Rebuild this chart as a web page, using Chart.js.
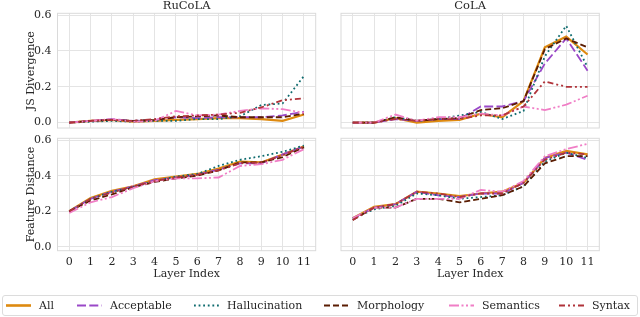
<!DOCTYPE html>
<html>
<head>
<meta charset="utf-8">
<script src="https://cdn.jsdelivr.net/npm/chart.js@4.4.1/dist/chart.umd.min.js"></script>
<style>
  body { margin: 0; width: 640px; height: 317px; background: #fff; position: relative; overflow: hidden; font-family: 'DejaVu Serif', serif; }
  canvas { position: absolute; left: 0; top: 0; }
  #legend { position: absolute; left: 2px; top: 295px; width: 634px; height: 19px; border: 1px solid #dcdcdc; border-radius: 3px; font-size: 11px; color: #262626; }
  .item { position: absolute; top: 0; height: 19px; line-height: 19px; white-space: nowrap; }
  .item svg { position: absolute; top: 0; left: 0; }
</style>
</head>
<body>
<canvas id="c1" width="640" height="317"></canvas>
<canvas id="c2" width="640" height="317"></canvas>
<canvas id="c3" width="640" height="317"></canvas>
<canvas id="c4" width="640" height="317"></canvas>
<div id="legend"></div>
<script>
// layers and series
var layers = [0, 1, 2, 3, 4, 5, 6, 7, 8, 9, 10, 11];
var series = ['All', 'Acceptable', 'Hallucination', 'Morphology', 'Semantics', 'Syntax'];
var yTicks = [0, 0.2, 0.4, 0.6];

// values, one row per series (same order as above)
var rucolaJs = [
  [0.0, 0.01, 0.015, 0.005, 0.01, 0.015, 0.02, 0.025, 0.025, 0.02, 0.01, 0.045],
  [0.0, 0.01, 0.02, 0.01, 0.015, 0.03, 0.025, 0.03, 0.03, 0.03, 0.04, 0.06],
  [0.0, 0.005, 0.01, 0.005, 0.01, 0.01, 0.02, 0.02, 0.035, 0.098, 0.107, 0.26],
  [0.0, 0.01, 0.015, 0.01, 0.015, 0.03, 0.035, 0.04, 0.03, 0.03, 0.03, 0.05],
  [0.0, 0.01, 0.02, 0.005, 0.01, 0.065, 0.04, 0.045, 0.065, 0.08, 0.075, 0.055],
  [0.0, 0.01, 0.015, 0.01, 0.02, 0.035, 0.04, 0.045, 0.055, 0.085, 0.125, 0.135]
];
var colaJs = [
  [0.0, 0.0, 0.025, 0.0, 0.01, 0.015, 0.05, 0.03, 0.12, 0.42, 0.48, 0.38],
  [0.0, 0.0, 0.02, 0.01, 0.02, 0.02, 0.09, 0.09, 0.12, 0.33, 0.47, 0.29],
  [0.0, 0.0, 0.03, 0.01, 0.02, 0.04, 0.06, 0.02, 0.065, 0.37, 0.54, 0.31],
  [0.0, 0.0, 0.03, 0.01, 0.02, 0.025, 0.07, 0.08, 0.12, 0.41, 0.47, 0.42],
  [0.0, 0.0, 0.045, 0.01, 0.03, 0.03, 0.05, 0.04, 0.09, 0.07, 0.10, 0.15],
  [0.0, 0.0, 0.02, 0.01, 0.02, 0.02, 0.04, 0.04, 0.09, 0.23, 0.20, 0.20]
];
var rucolaFd = [
  [0.2, 0.275, 0.315, 0.34, 0.38, 0.395, 0.41, 0.44, 0.48, 0.475, 0.52, 0.565],
  [0.2, 0.27, 0.31, 0.34, 0.375, 0.39, 0.405, 0.435, 0.47, 0.47, 0.52, 0.565],
  [0.2, 0.27, 0.31, 0.335, 0.37, 0.395, 0.41, 0.455, 0.49, 0.51, 0.535, 0.57],
  [0.2, 0.26, 0.295, 0.335, 0.365, 0.385, 0.4, 0.43, 0.475, 0.475, 0.505, 0.56],
  [0.19, 0.25, 0.28, 0.33, 0.37, 0.385, 0.385, 0.39, 0.455, 0.465, 0.49, 0.55],
  [0.2, 0.27, 0.305, 0.34, 0.37, 0.39, 0.405, 0.43, 0.47, 0.475, 0.515, 0.565]
];
var colaFd = [
  [0.16, 0.225, 0.24, 0.31, 0.30, 0.285, 0.30, 0.31, 0.36, 0.50, 0.54, 0.52],
  [0.16, 0.22, 0.24, 0.31, 0.29, 0.28, 0.30, 0.30, 0.36, 0.50, 0.53, 0.49],
  [0.16, 0.21, 0.23, 0.30, 0.29, 0.27, 0.28, 0.29, 0.34, 0.48, 0.53, 0.50],
  [0.15, 0.22, 0.22, 0.27, 0.27, 0.25, 0.27, 0.29, 0.34, 0.47, 0.51, 0.51],
  [0.16, 0.22, 0.22, 0.27, 0.27, 0.27, 0.32, 0.31, 0.37, 0.51, 0.55, 0.58],
  [0.15, 0.22, 0.24, 0.31, 0.30, 0.28, 0.30, 0.30, 0.36, 0.49, 0.53, 0.52]
];

// styles
var colors = ['#DE8A10', '#9A48C8', '#0E6B6E', '#5A1C02', '#F07EC6', '#B0333A'];
var widths = [2.2, 1.8, 1.8, 1.8, 1.8, 1.8];
var dashes = [[], [9, 3.3], [1.8, 2.8], [6, 3], [10, 2.5, 2, 2.5, 2, 2.5], [6, 3, 2, 3, 2, 3]];
var legendX = [3, 74, 191, 321, 446, 556];
var textColor = '#262626';
var gridColor = '#e4e4e4';
var frameColor = '#dadada';

Chart.defaults.font.family = "'DejaVu Serif', serif";
Chart.defaults.font.size = 11;
Chart.defaults.color = textColor;

var panelDeco = {
  id: 'panelDeco',
  afterDatasetsDraw: function(chart, args, opts) {
    var a = chart.chartArea, ctx = chart.ctx;
    ctx.save();
    ctx.strokeStyle = frameColor;
    ctx.lineWidth = 1;
    ctx.strokeRect(a.left, a.top, a.right - a.left, a.bottom - a.top);
    ctx.fillStyle = textColor;
    ctx.font = "11.5px 'DejaVu Serif'";
    ctx.textAlign = 'center';
    ctx.textBaseline = 'middle';
    ctx.fillText(opts.text, (a.left + a.right) / 2, 6.5);
    ctx.restore();
  }
};

function makeChart(id, values, box, title, yTitle, showX, showY, yMin, yMax) {
  var L = box[0], T = box[1], R = box[2], B = box[3];
  var wy = showY ? 33.1 : 0;
  var hx = showX ? 30 : 0;
  return new Chart(document.getElementById(id), {
    type: 'line',
    data: {
      datasets: series.map(function(name, i) {
        return {
          label: name,
          data: layers.map(function(l, j) { return {x: l, y: values[i][j]}; }),
          borderColor: colors[i],
          borderWidth: widths[i],
          borderDash: dashes[i],
          pointRadius: 0,
          tension: 0,
          fill: false,
          order: 5 - i
        };
      })
    },
    options: {
      responsive: false,
      animation: false,
      events: [],
      layout: {padding: {left: L - wy, top: T, right: 640 - R, bottom: 317 - B - hx}},
      plugins: {legend: {display: false}, tooltip: {enabled: false}, panelDeco: {text: title}},
      scales: {
        x: {
          type: 'linear', min: -0.55, max: 11.55,
          afterBuildTicks: function(s) { s.ticks = layers.map(function(v) { return {value: v}; }); },
          afterFit: function(s) { s.height = hx; },
          grid: {color: gridColor, drawTicks: false},
          border: {display: false},
          ticks: {display: showX, padding: 5, maxRotation: 0, autoSkip: false, callback: function(v) { return String(v); }},
          title: {display: showX, text: 'Layer Index', padding: 0}
        },
        y: {
          type: 'linear', min: yMin, max: yMax,
          afterBuildTicks: function(s) { s.ticks = yTicks.map(function(v) { return {value: v}; }); },
          afterFit: function(s) { s.width = wy; },
          grid: {color: gridColor, drawTicks: false},
          border: {display: false},
          ticks: {display: showY, padding: 6, callback: function(v) { return v.toFixed(1); }},
          title: {display: showY, text: yTitle, padding: 0}
        }
      }
    },
    plugins: [panelDeco]
  });
}

makeChart('c1', rucolaJs, [57.5, 13.3, 315.7, 128], 'RuCoLA', 'JS Divergence', false, true, -0.03, 0.61);
makeChart('c2', colaJs, [341, 13.3, 599.3, 128], 'CoLA', '', false, false, -0.03, 0.61);
makeChart('c3', rucolaFd, [57.5, 138.3, 315.7, 250.7], '', 'Feature Distance', true, true, -0.0225, 0.611);
makeChart('c4', colaFd, [341, 138.3, 599.3, 250.7], '', '', true, false, -0.0225, 0.611);

// legend
var legend = document.getElementById('legend');
series.forEach(function(name, i) {
  var item = document.createElement('div');
  item.className = 'item';
  item.style.left = legendX[i] + 'px';
  item.style.paddingLeft = '33px';
  var dash = dashes[i].length ? ' stroke-dasharray="' + dashes[i].join(' ') + '"' : '';
  item.innerHTML = '<svg width="25" height="19"><line x1="0" y1="9.5" x2="25" y2="9.5" stroke="' + colors[i] +
    '" stroke-width="' + (widths[i] + 0.4) + '"' + dash + '/></svg>' + name;
  legend.appendChild(item);
});
</script>
</body>
</html>
